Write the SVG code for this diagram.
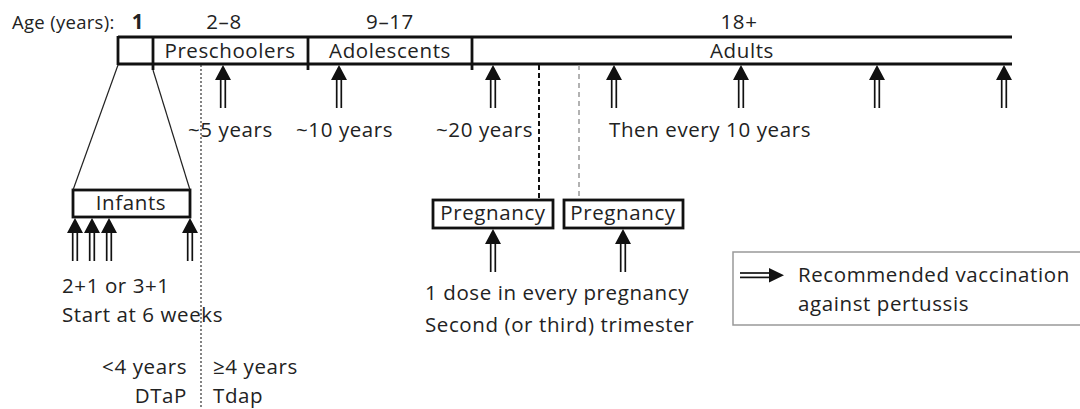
<svg xmlns="http://www.w3.org/2000/svg" width="1080" height="409" viewBox="0 0 1080 409">
<style>
text{font-family:"Open Sans","Liberation Sans",sans-serif;fill:#222;font-size:20.5px;letter-spacing:0.6px}
.sm{font-size:18.5px;letter-spacing:0.3px}
.box{fill:#fff;stroke:#111;stroke-width:2.8}
.bar{stroke:#111;stroke-width:2.8;fill:none}
.thin{stroke:#222;stroke-width:1.2;fill:none}
</style>
<defs>
<g id="arr">
<line x1="-2.3" y1="10" x2="-2.3" y2="43" stroke="#111" stroke-width="1.7"/>
<line x1="2.3" y1="10" x2="2.3" y2="43" stroke="#111" stroke-width="1.7"/>
<polygon points="0,0 -8,15 8,15" fill="#111"/>
</g>
</defs>
<rect width="1080" height="409" fill="#fff"/>

<g id="age-scale">
<text class="sm" x="12" y="29">Age (years):</text>
<text x="138" y="29" text-anchor="middle" font-weight="bold">1</text>
<text x="224" y="29" text-anchor="middle">2–8</text>
<text x="390" y="29" text-anchor="middle">9–17</text>
<text x="739" y="29" text-anchor="middle">18+</text>
<line class="bar" x1="118" y1="37" x2="1012" y2="37"/>
<line class="bar" x1="118" y1="64" x2="1012" y2="64"/>
<line class="bar" x1="118" y1="36" x2="118" y2="65"/>
<line class="bar" x1="153" y1="36" x2="153" y2="70"/>
<line class="bar" x1="308" y1="36" x2="308" y2="70"/>
<line class="bar" x1="472" y1="36" x2="472" y2="70"/>
<text x="230" y="58" text-anchor="middle">Preschoolers</text>
<text x="390" y="58" text-anchor="middle">Adolescents</text>
<text x="742" y="58" text-anchor="middle">Adults</text>
</g>

<g id="infants">
<rect class="box" x="73" y="190" width="117" height="27"/>
<text x="131" y="210" text-anchor="middle">Infants</text>
</g>

<g id="pregnancy-1">
<rect class="box" x="433" y="200" width="120" height="28"/>
<text x="493" y="220" text-anchor="middle" letter-spacing="0.3">Pregnancy</text>
</g>
<g id="pregnancy-2">
<rect class="box" x="564" y="200" width="119" height="28"/>
<text x="623" y="220" text-anchor="middle" letter-spacing="0.3">Pregnancy</text>
</g>

<g id="labels">
<text x="188" y="137">~5 years</text>
<text x="296" y="137">~10 years</text>
<text x="436" y="137">~20 years</text>
<text x="609" y="137">Then every 10 years</text>
<text x="62" y="293">2+1 or 3+1</text>
<text x="62" y="322">Start at 6 weeks</text>
<text x="187" y="374" text-anchor="end">&lt;4 years</text>
<text x="187" y="403" text-anchor="end">DTaP</text>
<text x="213" y="374">≥4 years</text>
<text x="213" y="403">Tdap</text>
<text x="425" y="300">1 dose in every pregnancy</text>
<text x="425" y="332">Second (or third) trimester</text>
</g>

<g id="legend">
<rect x="733" y="252" width="360" height="73" fill="#fff" stroke="#999" stroke-width="1.5"/>
<line x1="740" y1="273" x2="772" y2="273" stroke="#111" stroke-width="1.7"/>
<line x1="740" y1="277.4" x2="772" y2="277.4" stroke="#111" stroke-width="1.7"/>
<polygon points="784,275.2 769,268 769,282.5" fill="#111"/>
<text x="798" y="282">Recommended vaccination</text>
<text x="798" y="311">against pertussis</text>
</g>

<g id="connectors">
<line class="thin" x1="118" y1="65" x2="73" y2="190"/>
<line class="thin" x1="153" y1="70" x2="190" y2="190"/>
<line x1="201" y1="65" x2="201" y2="409" stroke="#333" stroke-width="1.2" stroke-dasharray="2,2"/>
<line x1="539" y1="65" x2="539" y2="200" stroke="#111" stroke-width="2" stroke-dasharray="5,3"/>
<line x1="579" y1="65" x2="579" y2="200" stroke="#999" stroke-width="1.5" stroke-dasharray="5,4"/>
<use href="#arr" x="223" y="65"/>
<use href="#arr" x="339" y="65"/>
<use href="#arr" x="493" y="65"/>
<use href="#arr" x="614" y="65"/>
<use href="#arr" x="741" y="65"/>
<use href="#arr" x="877" y="65"/>
<use href="#arr" x="1004" y="65"/>
<use href="#arr" x="75" y="218"/>
<use href="#arr" x="92" y="218"/>
<use href="#arr" x="109" y="218"/>
<use href="#arr" x="190" y="218"/>
<use href="#arr" x="493" y="229"/>
<use href="#arr" x="623" y="229"/>
</g>
</svg>
